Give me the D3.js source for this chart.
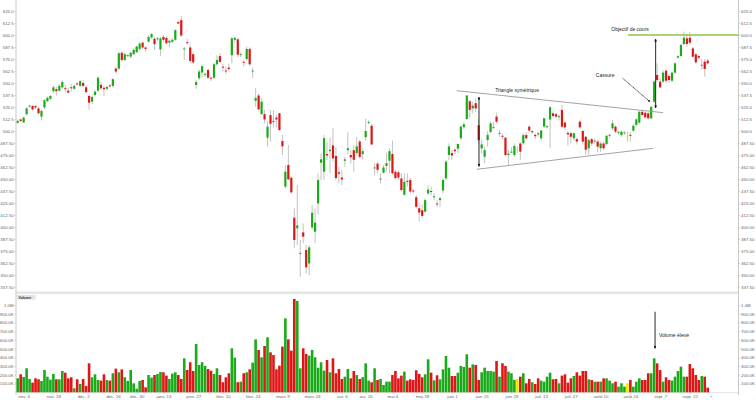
<!DOCTYPE html>
<html><head><meta charset="utf-8">
<script src="https://cdn.jsdelivr.net/npm/d3@7"></script>
<style>html,body{margin:0;padding:0;background:#fff;} svg{display:block;font-family:"Liberation Sans",Arial,sans-serif;}</style>
</head><body><svg id="c" width="756" height="400"></svg>
<script>
const opens=[508.5,512,509,517.5,525.5,526,526,523.5,515,524.5,531,533.5,541.5,543.5,542,545.5,544.5,542,545.5,544,549.5,547,550,545.5,536.5,530.5,537.5,542,548,545,544,547.5,547,565,565,581.5,574,578,577.5,580,582,585.5,592,587,593,597.5,596,595.5,585,598,597,592,593,595,613.5,615.5,585,592.5,587,580,548,555,
561,558.5,563.5,555.5,555.5,569.5,578,567,563,566,579,595,595.5,579,572,575,585.5,562,531.5,537,517.5,517.5,493,516.5,510.5,514,518.5,489.5,442,464.6,451.4,409.7,398.6,372,394.4,376,362.1,399.6,395.1,424.6,467,457.6,476,479,485,474,457,451.5,469,480,475,480,477,489,476,493.5,508.5,505.5,461,466,449.5,456.5,463.5,469,476,457.5,457,
450.5,433.5,448,449,438,431,419.5,417.5,416,435,437.5,431,424.5,428,438,450.7,475,477,480.5,481.5,492.5,504,512.5,531,523.5,529,506,482,473.2,490.6,499,503,515,497.6,495,493,475,477.5,475,481,487,487.2,495.8,504.5,498.6,496,497.5,492.4,504.5,504,512,518.4,517.5,514.5,521.9,508.7,498,497.6,492.4,491.5,509.7,500,494,482,491.5,489.5,489,
482,487,486.5,495,502.8,504.5,498,495.8,498,495,496,500.3,506.3,508.7,520,519,518.4,513.2,530.6,558.3,551.4,551.4,562.8,557.3,552.4,560.8,576.5,578.1,590.6,596.5,597.2,586,579.9,578.1,568,572.2,573.3];
const highs=[512,513,515,525,527.5,527,527,525,522,533,536,537.5,547,546,549,553,548,545,549,549,551,553,553,548,538,537,542.5,557,551,547,547,549,555,567,582,583,581.5,580,582.5,586,589,593,593.5,588,599.5,602,598,598,598,600,599,595,596.5,606,615,620,588,596,590,582,553,564,
569,561,565,556,571,579,581,570,567,570,598,598,597,582,574,588,587,566,544.5,539,534,522,510,522,522,517,519,496,464.6,485.4,452.5,419.4,443.7,386.4,403.8,381.2,381.2,422.9,419.4,455.9,476.7,495.8,488,493,503,483.7,462.8,459.4,473.2,499,480,485.4,494,491,482,513,511,507,466.3,468,456,464.6,477.4,481.9,490,459.4,459,
456,456,456,451,440,433.3,424.6,422.9,429.8,443.7,442,435,428,431.6,451,469.8,487,480,482,487,506,509,537.5,532.3,530.5,534,512,491,483.7,500,509.7,509.7,518.4,501,497,494,480.2,483,487,484,488,497.6,498.6,506,501,497.5,499,501,514,506,526,520.5,519,517,527,510,500,499,498.6,493,511,501,495,492,493,492,490.6,
489,489,496,497.5,511.5,506,500.5,500.5,500,499.3,499,507,513,521,522,520.5,519.5,526,553,570.5,555,563,565,559,562,571.5,579,591,603.5,601.5,603,587.5,581,580,575,575,575];
const lows=[507.5,509,508,516,524,521,523,517,511,523,530,532.5,540,537,541,544,540,539,541,543,547,546,546,539,522,528,536,541,543,536,542,545,545,560,563,572,573,577,576,579,581,584,585,582.5,592,596,584,594,578,593,590,587,591,594,611,598,574,590,571,570,544,553,
556,556,554,552,554,568,571,562,559,562,570.5,592,577,577,567,573,568,555,525,522,517,508,484,489,504,504,500,475,440.3,449,435,377.8,381.2,348.2,383,351.7,350,396.9,383,412.5,448.9,448.9,470,456,468,448.9,445.5,443.7,462.8,476,466,457.6,474,471,470,490,507,485,454.2,455.9,445.5,455.9,457.6,455.9,454.2,448.9,449,
436.8,433,442,435,435,419.4,405.6,409,415,433.3,433,428,421,421,435,449,469.8,470,476,477,490.6,502,511.4,513,518.4,520,487,476.5,466.3,483.7,497.6,502.5,508,494,491,474,463.9,477,473,477,469.8,485.4,491,499.5,497,492,494,490,503,502.5,482,514,513,511,502.8,501,485,487,490,486,502,486,475,475,484.5,487,478,
478.5,480,485,493,501,498,496,494,496,489,489,499.3,505,507,515,513,512,512.5,529,551,544.5,550,550,551,551,559,575,577.4,589.6,588,589.6,576.7,570,575,564,556.6,569];
const closes=[510.5,510.5,514,523.5,526.5,522.5,524.5,518.5,521,532,534.5,536.5,545.5,541.5,547,551,543.5,540,544.5,547,548.5,552,547,540.5,529.5,535.5,541,555.5,544.5,543.5,546,546.5,554,562,581,574,580,579,581.5,584.5,588,591,587,585.5,598,601,590.5,596.5,596.5,595,591.5,594,595,605,612,599.5,586,591.5,573,571.5,551,562,
567.5,559.5,555.5,554.5,569.5,574,572,566,562,564.5,596.5,597,579.5,580,571,585.5,569.5,563,534.5,522.5,530.5,512,504.5,507.5,510,512,501,484,457.6,449.6,436.1,386.4,401.7,373,389.9,358,378.8,414.9,404.5,448.9,470.5,492.5,474.5,480.5,471.5,451,455.5,449.5,470.5,482,472.5,470,484,473,479,500,509.5,486,462,459.5,450.5,462,466.5,479,456,451,451.5,
438.5,447,447,437,437,421,415,411.5,428,439,436.5,432,423.5,430,449,468,484,474.5,479,486.5,504.5,507,537,522,526.5,523.5,490.5,486,480,496,508,504,509.7,498,494,475,476.5,478.5,484.4,481,478.4,495.8,492.4,500.5,500,494.5,496.5,500.5,513.2,505,524.7,515.6,515,515.5,504.5,503.8,496.5,494,497.6,489,503.8,488.9,480.5,490.5,487,490,483.7,
487,482,495,496,508,499.3,499,499.3,498.5,495,495,505.5,512.2,520,516.7,514.2,513.2,525.3,551.4,553.1,545.5,560.8,552.4,553.1,560.8,570.5,578,589.6,597.2,590.6,592,577.4,571.5,576.4,569,564.6,570.5];
const volumes=[160,206,176,275,153,111,160,149,130,256,179,145,210,149,149,244,225,160,172,46,149,95,153,73,332,172,206,141,134,206,140,134,218,271,229,263,172,130,256,103,42,130,141,57,198,168,198,210,233,229,191,153,214,229,198,153,389,256,344,244,553,313,
344,302,267,248,210,275,198,115,172,218,504,397,115,122,218,229,263,340,607,485,401,531,630,458,427,263,305,523,847,607,477,1069,1046,275,504,439,420,485,401,282,344,248,370,229,389,218,267,153,179,267,160,244,198,153,172,332,134,115,275,141,153,84,122,122,198,244,160,
191,237,134,149,141,252,210,172,206,378,225,137,195,149,263,416,282,187,187,225,302,290,435,282,321,313,141,229,282,244,244,237,359,179,332,302,237,218,141,153,179,218,103,153,115,95,160,134,122,179,225,149,153,103,191,206,111,160,187,229,191,244,244,149,141,122,122,
122,160,160,134,103,122,65,103,65,103,141,65,122,160,141,141,218,218,389,332,256,122,172,141,134,179,244,294,179,179,324,275,198,141,187,179,53];

const holidays=["2019-12-25","2019-12-26","2020-01-01","2020-04-10","2020-04-13","2020-05-01"];
const tickDates=["2019-11-04","2019-11-18","2019-12-02","2019-12-16","2019-12-30","2020-01-13","2020-01-27","2020-02-10","2020-02-24","2020-03-09","2020-03-23","2020-04-06","2020-04-20","2020-05-04","2020-05-18","2020-06-01","2020-06-15","2020-06-29","2020-07-13","2020-07-27","2020-08-10","2020-08-24","2020-09-07","2020-09-21"];
const tickLabels=["nov. 4","nov. 18","déc. 2","déc. 16","déc. 30","janv. 13","janv. 27","févr. 10","févr. 24","mars 9","mars 23","avr. 6","avr. 20","mai 4","mai 18","juin 1","juin 15","juin 29","juil. 13","juil. 27","août 10","août 24","sept. 7","sept. 21"];
const priceTicks=d3.range(337.5,625.01,12.5);
const volTicks=d3.range(100,1000.1,100);

function tradingDays(start,n){const out=[];const d=new Date(start+"T12:00:00Z");while(out.length<n){const wd=d.getUTCDay();const s=d.toISOString().slice(0,10);if(wd!==0&&wd!==6&&!holidays.includes(s))out.push(s);d.setUTCDate(d.getUTCDate()+1);}return out;}
const n=closes.length;
const dates=tradingDays("2019-10-31",n);
const data=d3.range(n).map(i=>({i,o:opens[i],h:highs[i],l:lows[i],c:closes[i],v:volumes[i]}));

const svg=d3.select("#c");
const x=d3.scaleLinear().domain([0,n-1]).range([17.7,707.7]);
const y=d3.scaleLinear().domain([337.5,625]).range([287,11]);
const yv=d3.scaleLinear().domain([0,1000]).range([392.3,305]);
const L=16,R=738.5;
const GREEN="#1aaa1a",RED="#e01515",YEL="#f5e600";
const col=d=>d.c>d.o?GREEN:(d.c<d.o?RED:YEL);

// separator band
svg.append("rect").attr("x",L).attr("y",291.5).attr("width",R-L).attr("height",2.6).attr("fill","#e6e6e6");
// axes lines
svg.append("line").attr("x1",L).attr("x2",L).attr("y1",0).attr("y2",395).attr("stroke","#c8c8c8").attr("stroke-width",1);
svg.append("line").attr("x1",R).attr("x2",R).attr("y1",0).attr("y2",395).attr("stroke","#c8c8c8").attr("stroke-width",1);
svg.append("line").attr("x1",L).attr("x2",R).attr("y1",392.6).attr("y2",392.6).attr("stroke","#d0d0d0").attr("stroke-width",0.6);

const fmtP=v=>v>=500?v.toFixed(1):v.toFixed(2);
const fmtV=v=>v>=1000?(v/1000).toFixed(1)+"M":v.toFixed(1)+"K";
function styleAxis(g){g.select(".domain").remove();g.selectAll("line").attr("stroke","#bbb").attr("stroke-width",0.6);g.selectAll("text").attr("fill","#666").style("font-size","4.4px").style("font-family","Liberation Sans, Arial, sans-serif");}
svg.append("g").attr("transform",`translate(${L},0)`).call(d3.axisLeft(y).tickValues(priceTicks).tickFormat(fmtP).tickSize(1.5).tickPadding(0.8)).call(styleAxis);
svg.append("g").attr("transform",`translate(${R},0)`).call(d3.axisRight(y).tickValues(priceTicks).tickFormat(fmtP).tickSize(1.5).tickPadding(1)).call(styleAxis);
svg.append("g").attr("transform",`translate(${L},0)`).call(d3.axisLeft(yv).tickValues(volTicks).tickFormat(fmtV).tickSize(1.5).tickPadding(0.8)).call(styleAxis);
svg.append("g").attr("transform",`translate(${R},0)`).call(d3.axisRight(yv).tickValues(volTicks).tickFormat(fmtV).tickSize(1.5).tickPadding(1)).call(styleAxis);
svg.append("g").attr("transform",`translate(0,392.6)`).call(d3.axisBottom(x).tickValues(tickDates.map(d=>dates.indexOf(d))).tickFormat((d,k)=>tickLabels[k]).tickSize(1.5).tickPadding(0.8)).call(styleAxis);
svg.append("text").attr("x",710).attr("y",398).attr("fill","#888").style("font-size","4.4px").text("»");

// Volume label
svg.append("rect").attr("x",L+0.5).attr("y",295).attr("width",19).attr("height",4.6).attr("fill","#e2e2e2");
svg.append("text").attr("x",L+2.5).attr("y",298.7).attr("fill","#333").style("font-size","3.6px").style("font-weight","bold").text("Volume");

// candles
const cg=svg.append("g");
cg.selectAll("line.w").data(data).join("line").attr("class","w")
 .attr("x1",d=>x(d.i)).attr("x2",d=>x(d.i)).attr("y1",d=>y(d.h)).attr("y2",d=>y(d.l))
 .attr("stroke","#a8a8a8").attr("stroke-width",0.7);
cg.selectAll("rect.b").data(data).join("rect").attr("class","b")
 .attr("x",d=>x(d.i)-1.1).attr("width",2.2)
 .attr("y",d=>y(Math.max(d.o,d.c))).attr("height",d=>Math.max(0.9,Math.abs(y(d.o)-y(d.c))))
 .attr("fill",col);
// volume bars
svg.append("g").selectAll("rect").data(data).join("rect")
 .attr("x",d=>x(d.i)-1.3).attr("width",2.6)
 .attr("y",d=>yv(d.v)).attr("height",d=>yv(0)-yv(d.v)).attr("fill",col);

// annotations
const defs=svg.append("defs");
defs.append("marker").attr("id","ah").attr("viewBox","0 0 10 10").attr("refX",9).attr("refY",5)
 .attr("markerWidth",3.2).attr("markerHeight",3.2).attr("orient","auto-start-reverse")
 .append("path").attr("d","M0,0L10,5L0,10z").attr("fill","#111");
const ann=svg.append("g");
const upperTri=[[147.6,542.0],[217.0,519.1]];
const lowerTri=[[154.3,460.1],[213.7,482.0]];
[upperTri,lowerTri].forEach(s=>ann.append("line").attr("x1",x(s[0][0])).attr("y1",y(s[0][1])).attr("x2",x(s[1][0])).attr("y2",y(s[1][1])).attr("stroke","#999").attr("stroke-width",0.9));
const hArrow={i:155.1,p1:537.5,p2:461};
ann.append("line").attr("x1",x(hArrow.i)).attr("x2",x(hArrow.i)).attr("y1",y(hArrow.p1)+2).attr("y2",y(hArrow.p2)-2).attr("stroke","#111").attr("stroke-width",0.9).attr("marker-start","url(#ah)").attr("marker-end","url(#ah)");
const target={i0:205.2,p:600};
ann.append("line").attr("x1",x(target.i0)).attr("x2",R).attr("y1",y(target.p)).attr("y2",y(target.p)).attr("stroke","#8cc63f").attr("stroke-width",1.3);
const oArrow={i:214.5,p1:597.9,p2:521.9};
ann.append("line").attr("x1",x(oArrow.i)).attr("x2",x(oArrow.i)).attr("y1",y(oArrow.p1)+2).attr("y2",y(oArrow.p2)-2).attr("stroke","#111").attr("stroke-width",0.9).attr("marker-start","url(#ah)").attr("marker-end","url(#ah)");
const cArrow=[[203.4,554.9],[212.6,530.5]];
ann.append("line").attr("x1",x(cArrow[0][0])).attr("y1",y(cArrow[0][1])).attr("x2",x(cArrow[1][0])).attr("y2",y(cArrow[1][1])).attr("stroke","#111").attr("stroke-width",0.8).attr("stroke-dasharray","1.2,0.5").attr("marker-end","url(#ah)");
const vArrow={i:214.3,v1:923,v2:485};
ann.append("line").attr("x1",x(vArrow.i)).attr("x2",x(vArrow.i)).attr("y1",yv(vArrow.v1)).attr("y2",yv(vArrow.v2)-1.5).attr("stroke","#111").attr("stroke-width",0.9).attr("marker-end","url(#ah)");
const txt=(t,xx,yy,anchor)=>ann.append("text").attr("x",xx).attr("y",yy).attr("text-anchor",anchor).attr("fill","#222").style("font-size","5px").text(t);
txt("Triangle symétrique",x(167.9),y(540.6),"middle");
txt("Objectif de cours",x(205.9),y(604.2),"middle");
txt("Cassure",x(194.4),y(556.3),"start");
txt("Volume élevé",x(215.6),yv(628),"start");
</script></body></html>
